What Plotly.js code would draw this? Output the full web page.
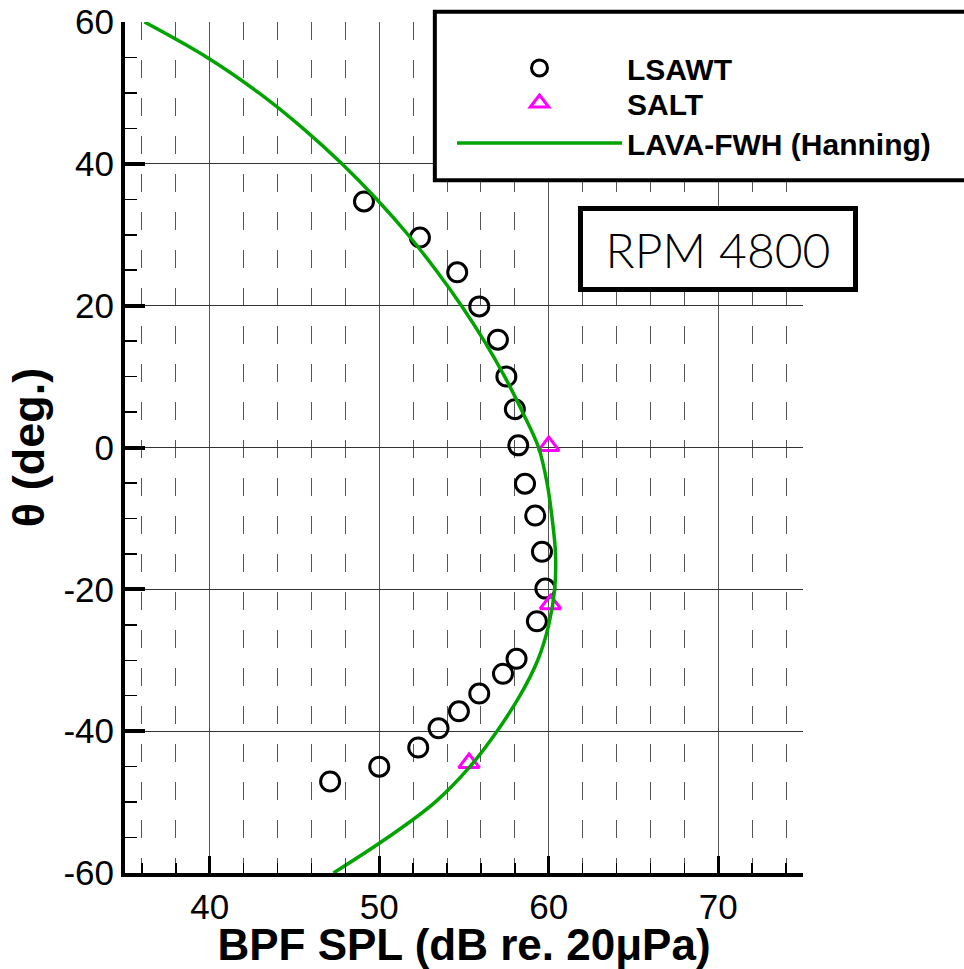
<!DOCTYPE html>
<html>
<head>
<meta charset="utf-8">
<script src="https://cdn.plot.ly/plotly-3.0.1.min.js"></script>
<style>html,body{margin:0;padding:0;background:#fff;}#chart{width:964px;height:969px;}</style>
</head>
<body>
<div id="chart"></div>
<script>
// LAVA-FWH (Hanning) curve
const curveTheta = [60, 55, 50, 45, 40, 35, 30, 25, 20, 15, 10, 5, 0, -5, -10, -15, -20, -25, -30, -35, -40, -45, -50, -55, -60];
const curveSPL   = [36.15, 39.85, 42.9, 45.5, 47.8, 49.85, 51.7, 53.35, 54.85, 56.2, 57.4, 58.45, 59.4, 59.9, 60.2, 60.4, 60.35, 60.0, 59.35, 58.3, 56.95, 55.35, 53.3, 50.5, 47.3];

// LSAWT measurements
const lsawtTheta = [34.7, 29.6, 24.7, 19.9, 15.2, 10.0, 5.4, 0.3, -5.1, -9.6, -14.7, -19.9, -24.5, -29.8, -31.9, -34.7, -37.2, -39.6, -42.3, -45.0, -47.1];
const lsawtSPL   = [49.1, 52.4, 54.6, 55.9, 57.0, 57.5, 58.0, 58.2, 58.6, 59.2, 59.6, 59.8, 59.3, 58.1, 57.3, 55.9, 54.7, 53.5, 52.3, 50.0, 47.1];

// SALT measurements
const saltTheta = [0.2, -22.1, -44.5];
const saltSPL   = [60.0, 60.1, 55.3];

const xTickVals = [40, 50, 60, 70];
const yTickVals = [-60, -40, -20, 0, 20, 40, 60];

const FONT = 'Liberation Sans, Arial, Helvetica, sans-serif';
const LEGFONT = {family: FONT, size: 30, weight: 'bold', color: '#000'};

const traces = [
  {
    x: lsawtSPL, y: lsawtTheta, name: 'LSAWT', type: 'scatter', mode: 'markers', legend: 'legend',
    marker: {symbol: 'circle-open', size: 19, color: '#000', line: {width: 3, color: '#000'}}
  },
  {
    x: saltSPL, y: saltTheta, name: 'SALT', type: 'scatter', mode: 'markers', legend: 'legend2',
    marker: {symbol: 'triangle-up-open', size: 18, color: '#ff00ff', line: {width: 3, color: '#ff00ff'}}
  },
  {
    x: curveSPL, y: curveTheta, name: 'LAVA-FWH (Hanning)', type: 'scatter', mode: 'lines', legend: 'legend3',
    line: {color: '#00a300', width: 3.5, shape: 'spline', smoothing: 1}
  }
];

function leg(yPaper) {
  return {x: 0.4823, y: yPaper, xanchor: 'left', yanchor: 'middle',
          bgcolor: 'rgba(0,0,0,0)', borderwidth: 0, itemwidth: 165, font: LEGFONT};
}

const layout = {
  width: 964, height: 969,
  margin: {l: 125, r: 161, t: 22, b: 96},
  paper_bgcolor: '#fff', plot_bgcolor: '#fff',
  showlegend: true,
  font: {family: FONT, color: '#000'},
  xaxis: {
    range: [35, 75], tickvals: xTickVals, ticktext: xTickVals.map(String),
    ticks: 'inside', ticklen: 17, tickwidth: 3, tickcolor: '#000',
    showline: true, linewidth: 4, linecolor: '#000', mirror: false,
    showgrid: true, gridcolor: '#555', gridwidth: 1, zeroline: false,
    tickfont: {family: FONT, size: 35, color: '#000'},
    minor: {dtick: 2, showgrid: true, gridcolor: '#555', gridwidth: 1, griddash: '18px,20px',
            ticks: 'inside', ticklen: 10, tickwidth: 1.5, tickcolor: '#000'},
    title: {text: 'BPF SPL (dB re. 20μPa)', font: {family: FONT, size: 44, weight: 'bold', color: '#000'}, standoff: 0}
  },
  yaxis: {
    range: [-60, 60], tickvals: yTickVals, ticktext: yTickVals.map(String),
    ticks: 'inside', ticklen: 20, tickwidth: 4, tickcolor: '#000',
    showline: true, linewidth: 4, linecolor: '#000', mirror: false,
    showgrid: true, gridcolor: '#333', gridwidth: 1, zeroline: false,
    tickfont: {family: FONT, size: 35, color: '#000'},
    minor: {dtick: 5, showgrid: false, ticks: 'inside', ticklen: 12, tickwidth: 1.5, tickcolor: '#000'},
    title: {text: 'θ (deg.)', font: {family: FONT, size: 45, weight: 'bold', color: '#000'}, standoff: 6}
  },
  legend: leg(0.946),
  legend2: leg(0.9048),
  legend3: leg(0.8578),
  shapes: [
    {type: 'rect', xref: 'paper', yref: 'paper', x0: 0.457, x1: 1.25, y0: 0.814, y1: 1.012,
     line: {color: '#000', width: 4}, fillcolor: '#fff', layer: 'above'}
  ],
  annotations: [
    {xref: 'paper', yref: 'paper', x: 0.8746, y: 0.7327, xanchor: 'center', yanchor: 'middle',
     text: 'RPM 4800', showarrow: false, font: {family: 'Lato, Noto Sans, sans-serif', size: 48, weight: 300, color: '#000'},
     bgcolor: '#fff', bordercolor: '#000', borderwidth: 5, borderpad: 0, width: 270, height: 76}
  ]
};

Plotly.newPlot('chart', traces, layout, {displayModeBar: false, staticPlot: true});
</script>
</body>
</html>
